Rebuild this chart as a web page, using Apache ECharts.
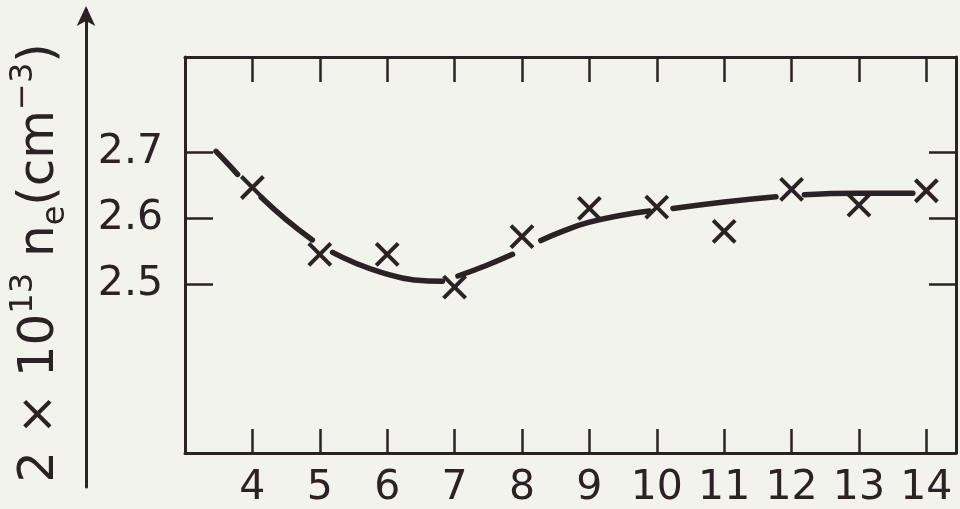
<!DOCTYPE html>
<html>
<head>
<meta charset="utf-8">
<script src="https://cdn.jsdelivr.net/npm/echarts@6/dist/echarts.min.js"></script>
<style>
html,body{margin:0;padding:0;background:#f3f3ee;}
#c{width:960px;height:509px;}
</style>
</head>
<body>
<div id="c"></div>
<script>
// ---- data ----
var xTicks = [4, 5, 6, 7, 8, 9, 10, 11, 12, 13, 14];
var yTicks = [2.5, 2.6, 2.7];
var measuredX = [4, 5, 6, 7, 8, 9, 10, 11, 12, 13, 14];
var measuredNe = [2.647, 2.545, 2.545, 2.495, 2.572, 2.615, 2.617, 2.58, 2.644, 2.62, 2.642];
// fitted curve, drawn in broken pieces as in the original
var curve1 = [[3.46, 2.702], [3.62, 2.685], [3.78, 2.667]];
var curve2 = [[4.13, 2.632], [4.5, 2.598], [4.89, 2.567]];
var curve3 = [[5.19, 2.548], [5.5, 2.533], [5.9, 2.518], [6.4, 2.506], [6.82, 2.504]];
var curve4 = [[7.05, 2.512], [7.47, 2.528], [7.86, 2.545]];
var curve5 = [[8.28, 2.566], [8.6, 2.58], [9.0, 2.594], [9.5, 2.605], [9.89, 2.611]];
var curve6 = [[10.24, 2.615], [11.0, 2.625], [11.77, 2.633]];
var curve7 = [[12.19, 2.636], [13.0, 2.638], [13.8, 2.638]];
var curvePieces = [curve1, curve2, curve3, curve4, curve5, curve6, curve7];

// ---- style ----
var INK = '#2a2224';
var FONT = 'DejaVu Sans';

var chart = echarts.init(document.getElementById('c'), null, {renderer: 'canvas'});

var lineSeries = curvePieces.map(function (p) {
  return {
    type: 'line', xAxisIndex: 0, yAxisIndex: 0,
    data: p, smooth: true, showSymbol: false, symbol: 'none',
    lineStyle: {color: INK, width: 5.5, cap: 'round', opacity: 1},
    silent: true, animation: false
  };
});

var points = measuredX.map(function (x, i) { return [x, measuredNe[i]]; });

var boxLine = {show: true, lineStyle: {color: INK, width: 3}};

var option = {
  backgroundColor: '#f3f3ee',
  animation: false,
  grid: [
    {left: 185, top: 57, right: 4, bottom: 54, containLabel: false},
    {left: 86, top: 10, width: 1, bottom: 22, containLabel: false}
  ],
  xAxis: [
    {
      type: 'value', gridIndex: 0, position: 'bottom', min: 3, max: 14.44,
      axisLine: boxLine,
      axisTick: {show: true, inside: true, length: 24, lineStyle: {color: INK, width: 2.5}, customValues: xTicks},
      axisLabel: {show: true, color: INK, fontFamily: FONT, fontSize: 41, margin: 15, customValues: xTicks},
      splitLine: {show: false}
    },
    {
      type: 'value', gridIndex: 0, position: 'top', min: 3, max: 14.44,
      axisLine: boxLine,
      axisTick: {show: true, inside: true, length: 25, lineStyle: {color: INK, width: 2.5}, customValues: xTicks},
      axisLabel: {show: false},
      splitLine: {show: false}
    },
    {type: 'value', gridIndex: 1, show: false}
  ],
  yAxis: [
    {
      type: 'value', gridIndex: 0, position: 'left', min: 2.242, max: 2.846,
      axisLine: boxLine,
      axisTick: {show: true, inside: true, length: 28, lineStyle: {color: INK, width: 2.5}, customValues: yTicks},
      axisLabel: {show: true, color: INK, fontFamily: FONT, fontSize: 41, margin: 22, customValues: yTicks,
        formatter: function (v) { return v.toFixed(1); }},
      splitLine: {show: false}
    },
    {
      type: 'value', gridIndex: 0, position: 'right', min: 2.242, max: 2.846,
      axisLine: boxLine,
      axisTick: {show: true, inside: true, length: 27, lineStyle: {color: INK, width: 2.5}, customValues: yTicks},
      axisLabel: {show: false},
      splitLine: {show: false}
    },
    {
      type: 'value', gridIndex: 1, position: 'left', min: 0, max: 1,
      axisLine: {show: true, symbol: ['none', 'arrow'], symbolSize: [14, 20], symbolOffset: [0, 4],
        lineStyle: {color: INK, width: 3}},
      axisTick: {show: false}, axisLabel: {show: false}, splitLine: {show: false}
    }
  ],
  graphic: [
    {
      type: 'text',
      x: 40, y: 263,
      rotation: Math.PI / 2,
      style: {
        text: '{n|2 × 10}{sup|13}{n| n}{sub|e}{n|(cm}{sup|−3}{n|)}',
        align: 'center', verticalAlign: 'middle',
        fill: INK,
        rich: {
          n: {fontFamily: FONT, fontSize: 50, lineHeight: 64, fill: INK, verticalAlign: 'middle'},
          sup: {fontFamily: FONT, fontSize: 32, lineHeight: 34, fill: INK, verticalAlign: 'top'},
          sub: {fontFamily: FONT, fontSize: 32, lineHeight: 30, fill: INK, verticalAlign: 'bottom'}
        }
      }
    }
  ],
  series: lineSeries.concat([
    {
      type: 'scatter', xAxisIndex: 0, yAxisIndex: 0,
      data: points,
      symbol: 'path://M0,0L10,10M10,0L0,10',
      symbolSize: 22,
      itemStyle: {color: 'rgba(0,0,0,0)', borderColor: INK, borderWidth: 4, opacity: 1},
      silent: true, z: 5
    }
  ])
};
chart.setOption(option);
</script>
</body>
</html>
